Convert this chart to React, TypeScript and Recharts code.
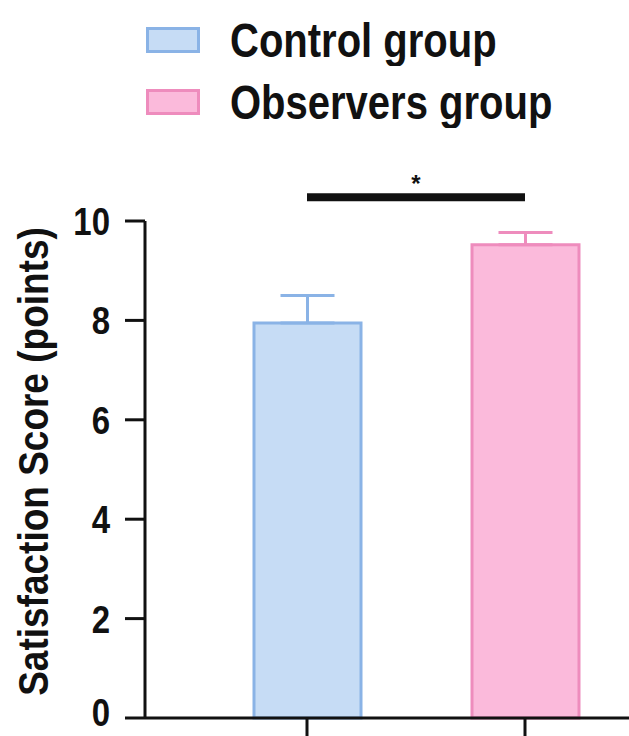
import { BarChart, Bar, Cell, XAxis, YAxis, ErrorBar, ReferenceLine, Legend } from 'recharts';

// Satisfaction score by group (mean with upper SD whisker)
const groups = ['Control group', 'Observers group'];
const seriesKeys = ['control', 'observers'];
const means = [7.95, 9.52];
const upperErrors = [0.55, 0.25];
const yTicks = [0, 2, 4, 6, 8, 10];
const bracketLevel = 10.48;
const significance = '*';

const FILLS = ['#c6dcf5', '#fbbadb'];
const STROKES = ['#8ab3e6', '#ee8cbd'];
const INK = '#111111';
const FONT = 'Arial, "Liberation Sans", sans-serif';
// the source figure uses a narrow, tall sans; stretch glyphs vertically
const STRETCH = 1.18;
const TICK_FONT = 33;
const CHART_H = 736;

// one row per group; each group has its own series so its whisker can take its colour
const data = groups.map((group, i) => ({
    group,
    [seriesKeys[i]]: means[i],
    [`${seriesKeys[i]}Err`]: [0, upperErrors[i]],
}));

function GroupLegend() {
    return (
        <div style={{ fontFamily: FONT, fontWeight: 'bold', fontSize: 40, color: INK }}>
            {groups.map((g, i) => (
                <div key={g} style={{ display: 'flex', alignItems: 'center', height: 62 }}>
                    <span
                        style={{
                            display: 'inline-block',
                            width: 48,
                            height: 20,
                            background: FILLS[i],
                            border: `3px solid ${STROKES[i]}`,
                            marginRight: 30,
                        }}
                    />
                    <span style={{ display: 'inline-block', lineHeight: 1, transform: `scaleY(${STRETCH})` }}>{g}</span>
                </div>
            ))}
        </div>
    );
}

function YTick(props: any) {
    const { x, y, payload } = props;
    // baseline placed so the digit's cap height is centred on the tick
    let baseline = (TICK_FONT * 0.716) / 2;
    // keep the bottom label (with its descent) inside the chart
    const bottom = y + (baseline + TICK_FONT * 0.22) * STRETCH;
    const shift = Math.min(0, CHART_H - 1 - bottom) / STRETCH;
    baseline += shift;
    return (
        <g transform={`translate(${x}, ${y}) scale(1, ${STRETCH})`}>
            <text x={0} y={baseline} textAnchor="end" fontSize={TICK_FONT} fontWeight="bold" fill={INK}>
                {payload.value}
            </text>
        </g>
    );
}

function YTitle(props: any) {
    const { viewBox } = props;
    const cy = viewBox.y + viewBox.height / 2 - 8;
    const cx = 33;
    return (
        <g transform={`translate(${cx}, ${cy}) rotate(-90) scale(1, ${STRETCH - 0.05})`}>
            <text x={0} y={0} textAnchor="middle" dominantBaseline="central" fontSize={37} fontWeight="bold" fill={INK}>
                Satisfaction Score (points)
            </text>
        </g>
    );
}

export default function App() {
    return (
        <div style={{ position: 'absolute', left: 0, top: 0, width: 629, height: CHART_H, overflow: 'hidden', background: '#fff', fontFamily: FONT }}>
            <BarChart
                width={629}
                height={CHART_H}
                data={data}
                margin={{ top: 221, right: 0, bottom: 0, left: 0 }}
            >
                <Legend
                    layout="vertical"
                    align="center"
                    verticalAlign="middle"
                    content={<GroupLegend />}
                    wrapperStyle={{ top: 9, left: 146, width: 480, height: 124 }}
                />
                <XAxis
                    dataKey="group"
                    height={18}
                    padding={{ left: 53, right: -5 }}
                    axisLine={{ stroke: INK, strokeWidth: 3 }}
                    tickLine={{ stroke: INK, strokeWidth: 3 }}
                    tickSize={18}
                    tickFormatter={() => ''}
                />
                <YAxis
                    width={145}
                    domain={[0, 10]}
                    ticks={yTicks}
                    interval={0}
                    axisLine={{ stroke: INK, strokeWidth: 3 }}
                    tickLine={{ stroke: INK, strokeWidth: 3 }}
                    tickSize={20}
                    tickMargin={15}
                    tick={<YTick />}
                    label={<YTitle />}
                />
                {seriesKeys.map((key, i) => (
                    <Bar
                        key={key}
                        dataKey={key}
                        stackId="groups"
                        barSize={107}
                        fill={FILLS[i]}
                        stroke={STROKES[i]}
                        strokeWidth={3}
                        isAnimationActive={false}
                    >
                        {data.map((d) => (
                            <Cell key={d.group} fill={FILLS[i]} stroke={STROKES[i]} />
                        ))}
                        <ErrorBar
                            dataKey={`${key}Err`}
                            width={27}
                            strokeWidth={3}
                            stroke={STROKES[i]}
                            isAnimationActive={false}
                        />
                    </Bar>
                ))}
                <ReferenceLine
                    segment={[
                        { x: groups[0], y: bracketLevel },
                        { x: groups[1], y: bracketLevel },
                    ]}
                    ifOverflow="visible"
                    stroke={INK}
                    strokeWidth={8}
                    label={{ value: significance, position: 'top', offset: 5, fontSize: 24, fontWeight: 'bold', fill: INK }}
                />
            </BarChart>
        </div>
    );
}
